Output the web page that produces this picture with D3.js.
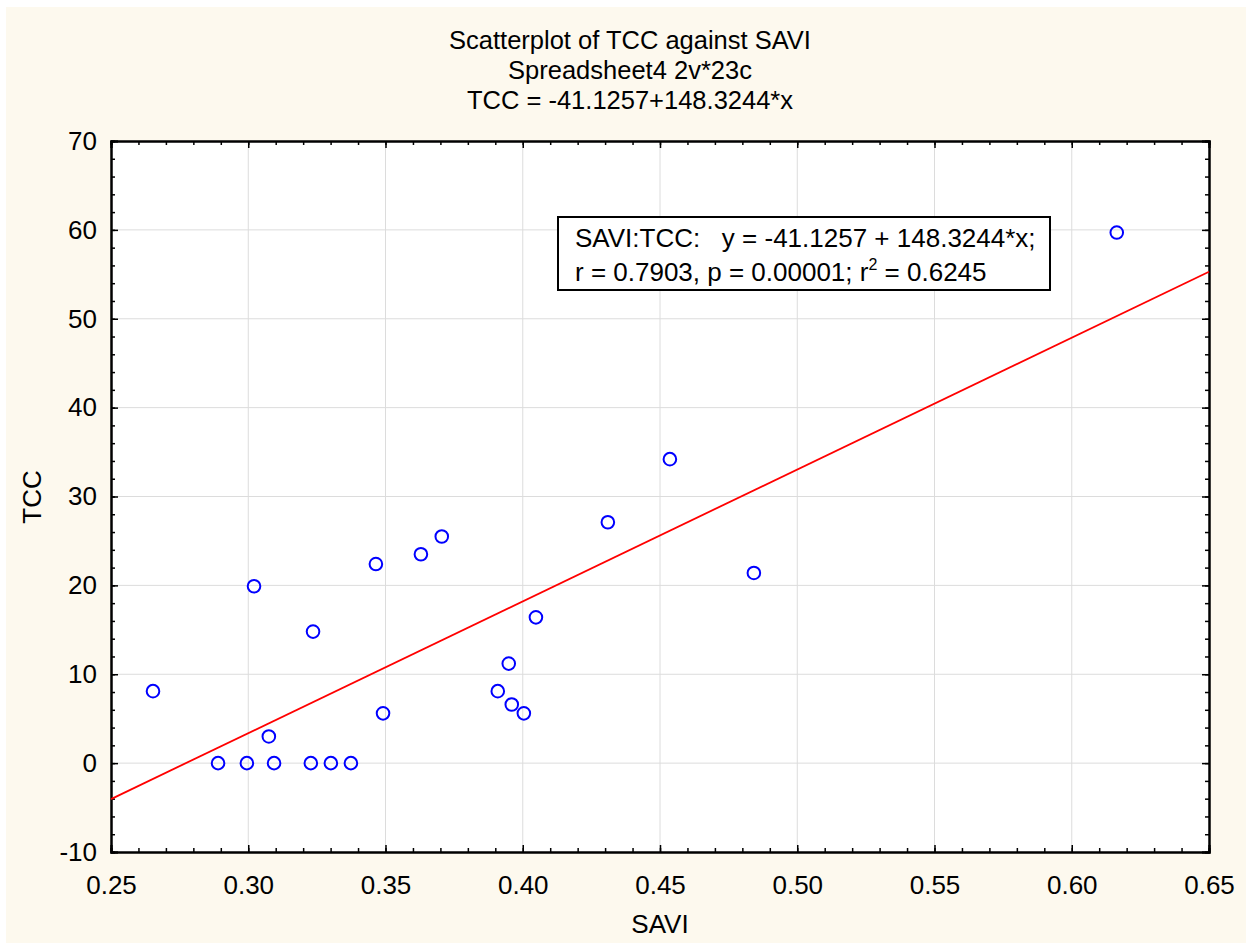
<!DOCTYPE html>
<html>
<head>
<meta charset="utf-8">
<script src="https://cdn.jsdelivr.net/npm/d3@7"></script>
<style>
  body { margin: 0; background: #fff; }
  text { font-family: "Liberation Sans", Arial, sans-serif; fill: #000; }
</style>
</head>
<body>
<div id="chart"></div>
<script>
// data
const savi = [0.2653, 0.2890, 0.2995, 0.3021, 0.3075, 0.3094, 0.3228, 0.3236, 0.3301, 0.3374,
  0.3465, 0.3491, 0.3629, 0.3705, 0.3909, 0.3949, 0.3960, 0.4004, 0.4048, 0.4310,
  0.4536, 0.4842, 0.6164]
const tcc = [8.1, 0, 0, 19.9, 3.0, 0, 0, 14.8, 0, 0,
  22.4, 5.6, 23.5, 25.5, 8.1, 11.2, 6.6, 5.6, 16.4, 27.1,
  34.2, 21.4, 59.7]
const xTicks = [0.25, 0.30, 0.35, 0.40, 0.45, 0.50, 0.55, 0.60, 0.65]
const yTicks = [-10, 0, 10, 20, 30, 40, 50, 60, 70]
const intercept = -41.1257
const slope = 148.3244
const titles = ["Scatterplot of TCC against SAVI", "Spreadsheet4 2v*23c", "TCC = -41.1257+148.3244*x"]

const W = 1246, H = 943
const MARGIN = { TOP: 141, BOTTOM: 91, LEFT: 111, RIGHT: 37 }
const WIDTH = W - MARGIN.LEFT - MARGIN.RIGHT
const HEIGHT = H - MARGIN.TOP - MARGIN.BOTTOM
const FONT = "26px"

const root = d3.select("#chart").append("svg")
  .attr("width", W)
  .attr("height", H)

// cream page background
root.append("rect")
  .attr("x", 6).attr("y", 7)
  .attr("width", W - 6).attr("height", H - 7)
  .attr("fill", "#fdf9ee")

// titles
root.selectAll(".title")
  .data(titles)
  .enter().append("text")
  .attr("class", "title")
  .attr("x", 630)
  .attr("y", (d, i) => 49 + i * 30)
  .attr("text-anchor", "middle")
  .style("font-size", "25.5px")
  .text(d => d)

const svg = root.append("g")
  .attr("transform", "translate(" + MARGIN.LEFT + "," + MARGIN.TOP + ")")

const x = d3.scaleLinear().domain([0.25, 0.65]).range([0, WIDTH])
const y = d3.scaleLinear().domain([-10, 70]).range([HEIGHT, 0])

svg.append("rect")
  .attr("width", WIDTH).attr("height", HEIGHT)
  .attr("fill", "#fff")

// grid
svg.append("g").selectAll("line")
  .data(xTicks.slice(1, -1))
  .enter().append("line")
  .attr("x1", d => x(d)).attr("x2", d => x(d))
  .attr("y1", 0).attr("y2", HEIGHT)
  .attr("stroke", "#dcdcdc").attr("stroke-width", 1)
svg.append("g").selectAll("line")
  .data(yTicks.slice(1, -1))
  .enter().append("line")
  .attr("y1", d => y(d)).attr("y2", d => y(d))
  .attr("x1", 0).attr("x2", WIDTH)
  .attr("stroke", "#dcdcdc").attr("stroke-width", 1)

// minor ticks (inward)
const xMinor = d3.range(25, 66).map(d => d / 100)
const yMinor = d3.range(-10, 71, 2)

const xAxisMinor = d3.axisBottom(x).tickValues(xMinor).tickSize(-4).tickFormat("")
const xAxisMinorTop = d3.axisTop(x).tickValues(xMinor).tickSize(-4).tickFormat("")
const yAxisMinor = d3.axisLeft(y).tickValues(yMinor).tickSize(-4).tickFormat("")
const yAxisMinorRight = d3.axisRight(y).tickValues(yMinor).tickSize(-4).tickFormat("")

svg.append("g").attr("class", "axis").attr("transform", "translate(0," + HEIGHT + ")").call(xAxisMinor)
svg.append("g").attr("class", "axis").call(xAxisMinorTop)
svg.append("g").attr("class", "axis").call(yAxisMinor)
svg.append("g").attr("class", "axis").attr("transform", "translate(" + WIDTH + ",0)").call(yAxisMinorRight)

// major ticks with labels
const xAxisCall = d3.axisBottom(x).tickValues(xTicks).tickSize(-7).tickPadding(24).tickFormat(d3.format(".2f"))
const yAxisCall = d3.axisLeft(y).tickValues(yTicks).tickSize(-7).tickPadding(14).tickFormat(d => String(d))
const xAxisTop = d3.axisTop(x).tickValues(xTicks).tickSize(-7).tickFormat("")
const yAxisRight = d3.axisRight(y).tickValues(yTicks).tickSize(-7).tickFormat("")

svg.append("g").attr("class", "axis major").attr("transform", "translate(0," + HEIGHT + ")").call(xAxisCall)
svg.append("g").attr("class", "axis major").call(yAxisCall)
svg.append("g").attr("class", "axis").call(xAxisTop)
svg.append("g").attr("class", "axis").attr("transform", "translate(" + WIDTH + ",0)").call(yAxisRight)

svg.selectAll(".axis path").attr("stroke", "#000").attr("stroke-width", 2)
svg.selectAll(".axis line").attr("stroke", "#000").attr("stroke-width", 1.5)
svg.selectAll(".axis text")
  .style("font-size", FONT)
  .attr("font-family", null)
  .attr("fill", "#000")

// regression line
svg.append("line")
  .attr("x1", x(0.25)).attr("y1", y(intercept + slope * 0.25))
  .attr("x2", x(0.65)).attr("y2", y(intercept + slope * 0.65))
  .attr("stroke", "#ff0000").attr("stroke-width", 1.8)

// points
svg.selectAll(".pt")
  .data(savi)
  .enter().append("circle")
  .attr("class", "pt")
  .attr("cx", d => x(d))
  .attr("cy", (d, i) => y(tcc[i]))
  .attr("r", 6.3)
  .attr("fill", "none")
  .attr("stroke", "#0000ff")
  .attr("stroke-width", 2)

// legend box
const legend = root.append("g").attr("transform", "translate(558,217)")
legend.append("rect")
  .attr("width", 492).attr("height", 73)
  .attr("fill", "#fff").attr("stroke", "#000").attr("stroke-width", 2)
legend.append("text")
  .attr("x", 17).attr("y", 30)
  .style("font-size", FONT)
  .attr("xml:space", "preserve")
  .style("white-space", "pre")
  .text("SAVI:TCC:   y = -41.1257 + 148.3244*x;")
const l2 = legend.append("text")
  .attr("x", 17).attr("y", 64)
  .style("font-size", FONT)
l2.append("tspan").text("r = 0.7903, p = 0.00001; r")
l2.append("tspan").attr("dy", -11).style("font-size", "16px").text("2")
l2.append("tspan").attr("dy", 11).text(" = 0.6245")

// axis labels
root.append("text")
  .attr("x", 660).attr("y", 933)
  .attr("text-anchor", "middle")
  .style("font-size", FONT)
  .text("SAVI")
root.append("text")
  .attr("transform", "translate(41,497) rotate(-90)")
  .attr("text-anchor", "middle")
  .style("font-size", FONT)
  .text("TCC")
</script>
</body>
</html>
